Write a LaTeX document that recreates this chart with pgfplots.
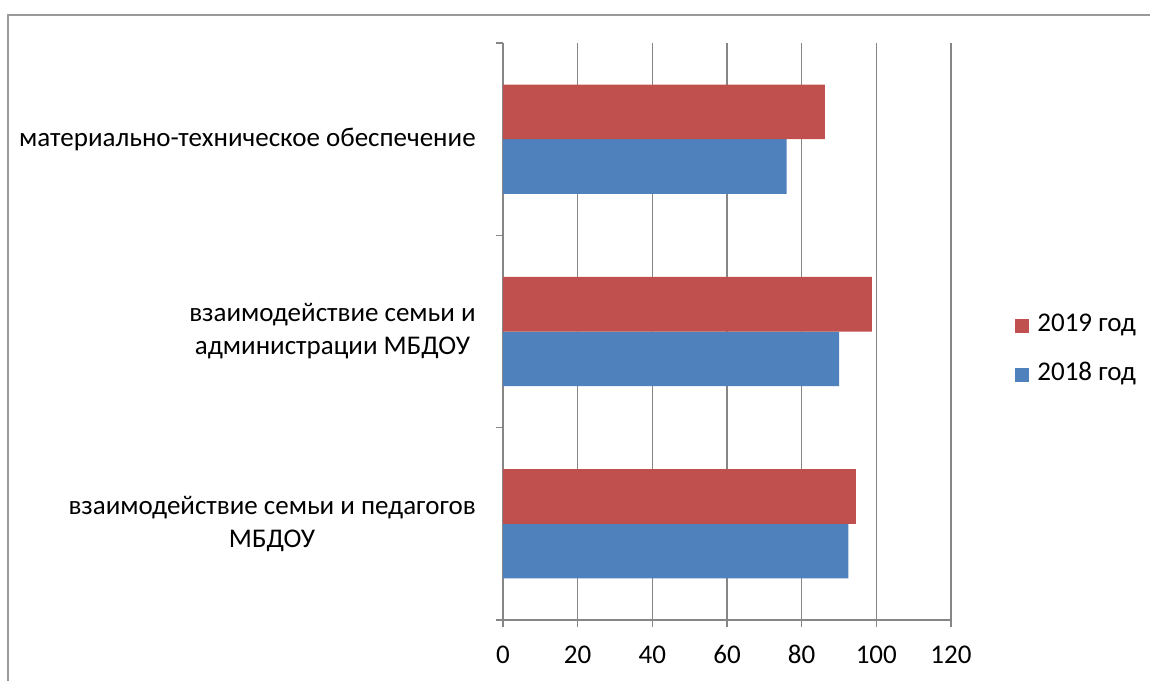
\documentclass[border=0pt]{standalone}
\usepackage{fontspec}
\setmainfont{Carlito}
\usepackage{pgfplots}
\pgfplotsset{compat=1.18}
\definecolor{red19}{HTML}{C0504D}
\definecolor{blue18}{HTML}{4F81BD}
\definecolor{gridgray}{HTML}{868686}
\definecolor{framegray}{HTML}{9A9A9A}
\newcommand{\chfont}{\fontsize{13.5pt}{16.5pt}\selectfont}
\begin{document}
\begin{tikzpicture}
\useasboundingbox (0pt,0pt) rectangle (575pt,340pt);
\draw[framegray, line width=1pt] (4pt,-10pt) -- (4pt,332.5pt) -- (590pt,332.5pt);
\begin{axis}[
  at={(251.5pt,30pt)}, anchor=south west,
  scale only axis, width=224pt, height=288.5pt,
  xmin=0, xmax=120, ymin=-0.5, ymax=2.5,
  xtick={0,20,...,120},
  ytick={-0.5,0.5,1.5,2.5},
  yticklabels={},
  extra y ticks={0,1,2},
  extra y tick labels={{взаимодействие семьи и педагогов\\МБДОУ},{взаимодействие семьи и\\администрации МБДОУ},{материально-техническое обеспечение}},
  extra y tick style={major tick length=0pt, tick style={draw=none}},
  axis x line*=bottom, axis y line*=left,
  axis line style={gridgray, line width=0.75pt, -},
  xmajorgrids, major grid style={gridgray, line width=0.75pt},
  tick style={gridgray, line width=0.75pt},
  tick align=outside,
  major tick length=3.5pt,
  /pgf/number format/assume math mode=true,
  ticklabel style={font=\chfont, text=black},
  xticklabel style={anchor=base, inner sep=0pt, yshift=-18pt},
  yticklabel style={align=center, inner sep=0pt, xshift=-13.5pt},
  legend style={at={(1.1429,0.467)}, anchor=west, draw=none, fill=none, inner sep=0pt,
    row sep=16.5pt, font=\chfont,
    nodes={inner sep=0pt, text height=6.5pt, text depth=1.5pt}},
  legend cell align=left,
  legend image code/.code={\fill[#1] (0pt,-3.5pt) rectangle (7pt,3.5pt); \path (11pt,0pt);},
  reverse legend,
]
\addplot[xbar, fill=blue18, draw=none, bar width=0.284, bar shift=-0.142]
  coordinates {(92.5,0) (90,1) (76,2)};
\addlegendentry{2018 год}
\addplot[xbar, fill=red19, draw=none, bar width=0.284, bar shift=0.142]
  coordinates {(94.5,0) (98.8,1) (86.2,2)};
\addlegendentry{2019 год}
\end{axis}
\end{tikzpicture}
\end{document}
